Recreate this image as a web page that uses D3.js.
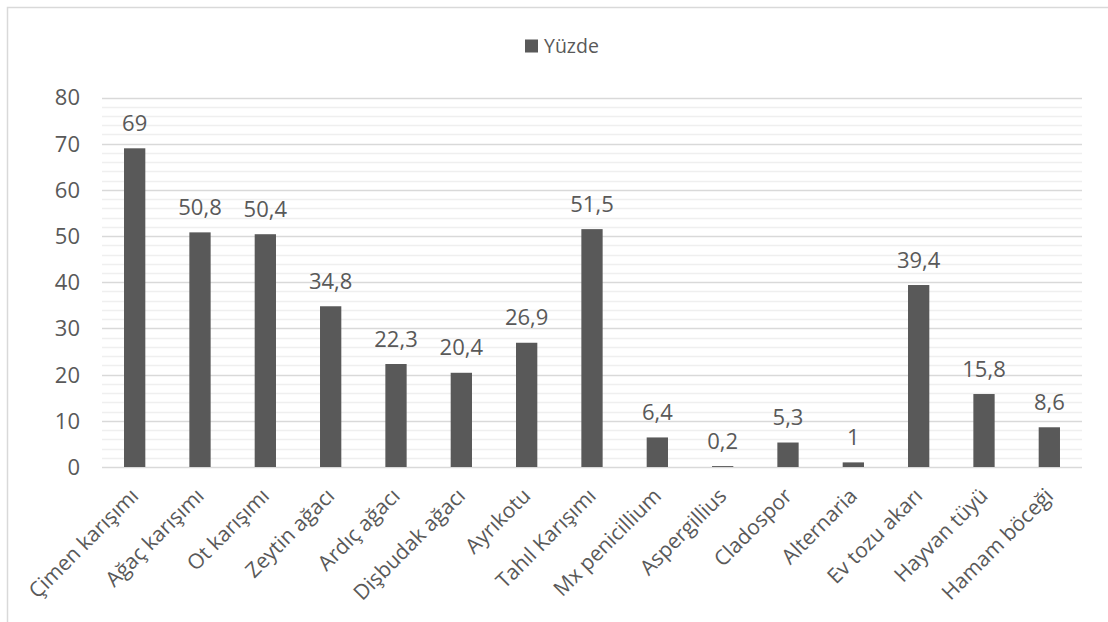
<!DOCTYPE html>
<html><head><meta charset="utf-8">
<script src="https://cdn.jsdelivr.net/npm/d3@7"></script>
<style>body{margin:0;background:#fff}svg{display:block}text{font-family:"Open Sans",sans-serif;fill:#595959}</style>
</head><body>
<svg id="c" width="1108" height="622"></svg>
<script>
const categories = ["Çimen karışımı","Ağaç karışımı","Ot karışımı","Zeytin ağacı","Ardıç ağacı","Dişbudak ağacı","Ayrıkotu","Tahıl Karışımı","Mx penicillium","Aspergillius","Cladospor","Alternaria","Ev tozu akarı","Hayvan tüyü","Hamam böceği"];
const values = [69,50.8,50.4,34.8,22.3,20.4,26.9,51.5,6.4,0.2,5.3,1,39.4,15.8,8.6];
const seriesName = "Yüzde";
const yTicks = [0,10,20,30,40,50,60,70,80];

const svg = d3.select("#c");
svg.append("rect").attr("x",7.5).attr("y",7.5).attr("width",1300).attr("height",1000)
  .attr("fill","none").attr("stroke","#d9d9d9").attr("stroke-width",1.5);

const x = d3.scaleBand().domain(categories).range([102,1082]).paddingInner(0.674).paddingOuter(0.337);
const y = d3.scaleLinear().domain([0,80]).range([467,97.5]);

// minor gridlines
const minor = d3.range(2,80,2).filter(v=>v%10!==0);
svg.append("g").selectAll("line").data(minor).join("line")
  .attr("x1",102).attr("x2",1082).attr("y1",d=>Math.round(y(d))+0.5).attr("y2",d=>Math.round(y(d))+0.5)
  .attr("stroke","#efefef").attr("stroke-width",1.5);
// major gridlines
svg.append("g").selectAll("line").data(yTicks).join("line")
  .attr("x1",102).attr("x2",1082).attr("y1",d=>Math.round(y(d))+0.5).attr("y2",d=>Math.round(y(d))+0.5)
  .attr("stroke","#d9d9d9").attr("stroke-width",1.5);

// y tick labels
svg.append("g").selectAll("text").data(yTicks).join("text")
  .attr("x",80).attr("y",d=>y(d)).attr("dy","0.36em").attr("text-anchor","end")
  .attr("font-size",22).text(d=>d);

// bars
svg.append("g").selectAll("rect").data(values).join("rect")
  .attr("x",(d,i)=>x(categories[i])).attr("width",x.bandwidth())
  .attr("y",d=>y(d)).attr("height",d=>y(0)-y(d)).attr("fill","#595959");

// data labels
const fmt = v => String(v).replace(".",",");
svg.append("g").selectAll("text").data(values).join("text")
  .attr("x",(d,i)=>x(categories[i])+x.bandwidth()/2).attr("y",d=>y(d)-17.5)
  .attr("text-anchor","middle").attr("font-size",22).text(fmt);

// x labels
svg.append("g").selectAll("text").data(categories).join("text")
  .attr("transform",d=>`translate(${x(d)+x.bandwidth()/2},${492}) rotate(-45)`)
  .attr("text-anchor","end").attr("dy","0.35em").attr("font-size",21).text(d=>d);

// legend
svg.append("rect").attr("x",525).attr("y",39.5).attr("width",13).attr("height",13).attr("fill","#595959");
svg.append("text").attr("x",544).attr("y",53).attr("font-size",19.5).text(seriesName);
</script>
</body></html>
